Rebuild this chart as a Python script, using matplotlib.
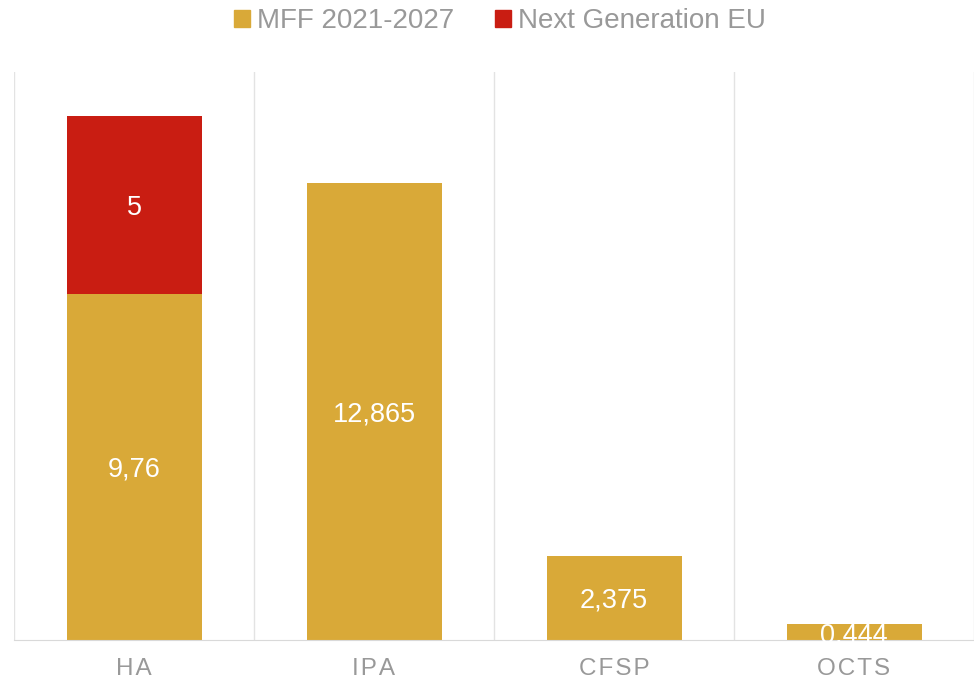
import matplotlib
matplotlib.use("Agg")
import matplotlib.pyplot as plt
from matplotlib.patches import Patch

plt.rcParams['font.family'] = ['Liberation Sans', 'DejaVu Sans']

categories = ["HA", "IPA", "CFSP", "OCTS"]
mff = [9.76, 12.865, 2.375, 0.444]
ngeu = [5, 0, 0, 0]
mff_labels = ["9,76", "12,865", "2,375", "0,444"]
ngeu_labels = ["5", "", "", ""]

gold = "#D9A938"
red = "#C91D12"
grey = "#999999"

fig = plt.figure(figsize=(9.74, 6.84), dpi=100)
ax = fig.add_axes([14 / 974, 44 / 684, 960 / 974, 568 / 684])

x = range(len(categories))
ax.bar(x, mff, width=0.5625, color=gold, zorder=2)
ax.bar(x, ngeu, width=0.5625, bottom=mff, color=red, zorder=2)

for i in x:
    ax.text(i, mff[i] / 2, mff_labels[i], ha="center", va="center_baseline",
            color="white", fontsize=19.5, zorder=3)
    if ngeu[i]:
        ax.text(i, mff[i] + ngeu[i] / 2, ngeu_labels[i], ha="center",
                va="center_baseline", color="white", fontsize=19.5, zorder=3)

# vertical separators between categories
for b in [-0.5, 0.5, 1.5, 2.5, 3.5]:
    ax.axvline(b, color="#E3E3E3", lw=1, zorder=1)

ax.set_xlim(-0.5, 3.5)
ax.set_ylim(0, 16)
ax.set_yticks([])
ax.set_xticks(list(x))
ax.set_xticklabels(["\u200a".join(c) for c in categories], color=grey,
                   fontsize=17.5)
ax.tick_params(axis="x", length=0, pad=13)
for s in ["top", "right", "left"]:
    ax.spines[s].set_visible(False)
ax.spines["bottom"].set_color("#D9D9D9")

handles = [Patch(color=gold, label="MFF 2021-2027"),
           Patch(color=red, label="Next Generation EU")]
leg = fig.legend(handles=handles, loc="center",
                 bbox_to_anchor=(0.5 + 13 / 974, 1 - 21 / 684),
                 ncol=2, frameon=False, fontsize=20, handlelength=0.55,
                 handleheight=0.55, handletextpad=0.25, columnspacing=1.5)
for t in leg.get_texts():
    t.set_color(grey)

fig.savefig("out.png", dpi=100)
